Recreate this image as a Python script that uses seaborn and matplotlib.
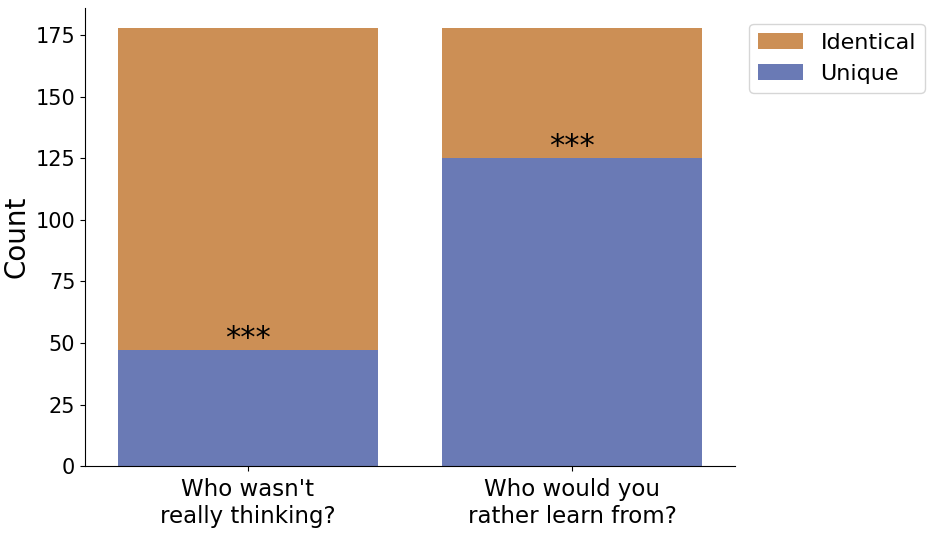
import matplotlib
matplotlib.use('Agg')
import matplotlib.pyplot as plt
import seaborn as sns
import pandas as pd
import numpy as np

questions = ["Who wasn't\nreally thinking?", "Who would you\nrather learn from?"]
unique_counts = [47, 125]
identical_counts = [131, 53]
stars = ["***", "***"]

color_identical = "#cc8f55"
color_unique = "#6a7ab5"

plt.rcParams['font.family'] = ['DejaVu Sans']

df = pd.DataFrame({
    "question": questions,
    "Unique": unique_counts,
    "Identical": identical_counts,
})
df["Total"] = df["Unique"] + df["Identical"]

fig, ax = plt.subplots(figsize=(9.35, 5.34), dpi=100)

# total bar behind, unique bar in front -> stacked look
sns.barplot(data=df, x="question", y="Total", color=color_identical, saturation=1,
            label="Identical", linewidth=0, ax=ax)
sns.barplot(data=df, x="question", y="Unique", color=color_unique, saturation=1,
            label="Unique", linewidth=0, ax=ax)

for i, (u, s) in enumerate(zip(unique_counts, stars)):
    ax.text(i, u - 1.0, s, ha='center', va='bottom', fontsize=22, color='black')

ax.set_xlabel("")
ax.set_ylabel("Count", fontsize=20)
ax.tick_params(axis='x', labelsize=16.5, pad=5)
ax.tick_params(axis='y', labelsize=15)
ax.set_xlim(-0.5, 1.5)
ax.set_ylim(0, 186)
sns.despine(ax=ax)

ax.legend(loc='upper left', bbox_to_anchor=(1.005, 0.99), fontsize=16)

fig.subplots_adjust(left=0.091, right=0.786, top=0.985, bottom=0.127)
fig.savefig("out.png", dpi=100)
